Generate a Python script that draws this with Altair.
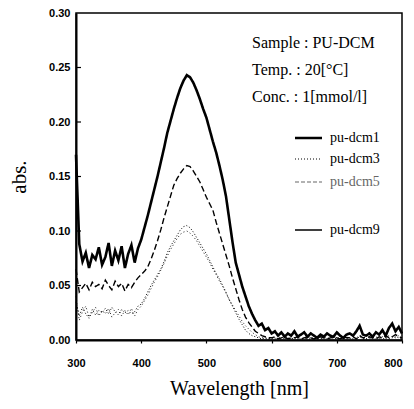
import altair as alt
import pandas as pd

wavelength = list(range(300, 805, 5))

pu_dcm1 = [
    0.170, 0.088, 0.072, 0.080, 0.066, 0.078, 0.074, 0.085, 0.069, 0.076,
    0.089, 0.068, 0.082, 0.073, 0.086, 0.066, 0.079, 0.087, 0.071, 0.084,
    0.092, 0.103, 0.114, 0.126, 0.138, 0.150, 0.163, 0.176, 0.190, 0.201,
    0.212, 0.222, 0.231, 0.238, 0.243, 0.241, 0.236, 0.229, 0.221, 0.212,
    0.204, 0.193, 0.182, 0.172, 0.160, 0.147, 0.132, 0.111, 0.090, 0.071,
    0.060, 0.049, 0.040, 0.031, 0.024, 0.018, 0.013, 0.015, 0.009, 0.011,
    0.006, 0.008, 0.004, 0.007, 0.003, 0.006, 0.004, 0.008, 0.003, 0.005,
    0.007, 0.003, 0.006, 0.004, 0.002, 0.005, 0.003, 0.006, 0.004, 0.003,
    0.007, 0.004, 0.002, 0.005, 0.006, 0.004, 0.008, 0.013, 0.005, 0.004,
    0.006, 0.003, 0.007, 0.005, 0.009, 0.004, 0.011, 0.015, 0.008, 0.012,
    0.006,
]
pu_dcm3 = [
    0.035, 0.022, 0.030, 0.024, 0.020, 0.028, 0.023, 0.027, 0.025, 0.029,
    0.024, 0.030, 0.026, 0.023, 0.028, 0.025, 0.027, 0.024, 0.026, 0.031,
    0.033, 0.038, 0.044, 0.050, 0.055, 0.060, 0.065, 0.072, 0.080, 0.086,
    0.091, 0.096, 0.101, 0.104, 0.105, 0.103, 0.099, 0.094, 0.089, 0.084,
    0.079, 0.073, 0.067, 0.061, 0.056, 0.050, 0.044, 0.037, 0.031, 0.025,
    0.019, 0.014, 0.009, 0.006, 0.004, 0.003, 0.002, 0.001, 0.002, 0.001,
    0.001, 0.002, 0.001, 0.001, 0.002, 0.001, 0.001, 0.002, 0.001, 0.001,
    0.002, 0.001, 0.001, 0.002, 0.001, 0.001, 0.002, 0.001, 0.001, 0.002,
    0.001, 0.001, 0.002, 0.001, 0.002, 0.001, 0.001, 0.003, 0.001, 0.001,
    0.002, 0.001, 0.001, 0.002, 0.001, 0.002, 0.001, 0.002, 0.003, 0.002,
    0.001,
]
pu_dcm5 = [
    0.065, 0.044, 0.048, 0.052, 0.046, 0.053, 0.049, 0.051, 0.047, 0.055,
    0.050, 0.046, 0.054, 0.049, 0.052, 0.045, 0.051, 0.048, 0.053, 0.057,
    0.060, 0.063, 0.067, 0.074, 0.082, 0.091, 0.101, 0.112, 0.122, 0.132,
    0.142, 0.148, 0.153, 0.157, 0.160, 0.159, 0.155, 0.150, 0.145, 0.138,
    0.131, 0.125, 0.119, 0.108, 0.098, 0.088, 0.078, 0.068, 0.057, 0.047,
    0.037, 0.028, 0.021, 0.016, 0.012, 0.008, 0.006, 0.004, 0.003, 0.002,
    0.002, 0.003, 0.001, 0.002, 0.003, 0.001, 0.002, 0.002, 0.003, 0.001,
    0.002, 0.003, 0.002, 0.001, 0.002, 0.003, 0.002, 0.001, 0.002, 0.003,
    0.002, 0.001, 0.003, 0.002, 0.002, 0.003, 0.001, 0.004, 0.002, 0.002,
    0.003, 0.002, 0.001, 0.003, 0.002, 0.004, 0.002, 0.003, 0.005, 0.003,
    0.002,
]
pu_dcm9 = [
    0.040, 0.018, 0.026, 0.031, 0.021, 0.025, 0.030, 0.022, 0.027, 0.024,
    0.029, 0.021, 0.025, 0.028, 0.022, 0.027, 0.023, 0.029, 0.022, 0.028,
    0.031, 0.036, 0.041, 0.047, 0.053, 0.058, 0.064, 0.070, 0.077, 0.083,
    0.088, 0.093, 0.097, 0.099, 0.100, 0.098, 0.095, 0.091, 0.086, 0.081,
    0.076, 0.071, 0.065, 0.060, 0.054, 0.049, 0.043, 0.037, 0.032, 0.027,
    0.022, 0.017, 0.013, 0.010, 0.007, 0.005, 0.003, 0.002, 0.002, 0.001,
    0.002, 0.001, 0.002, 0.003, 0.001, 0.002, 0.001, 0.002, 0.002, 0.001,
    0.001, 0.002, 0.003, 0.001, 0.002, 0.001, 0.002, 0.002, 0.001, 0.003,
    0.002, 0.002, 0.001, 0.003, 0.001, 0.002, 0.002, 0.004, 0.002, 0.001,
    0.001, 0.002, 0.003, 0.001, 0.003, 0.002, 0.004, 0.003, 0.002, 0.004,
    0.002,
]

series_names = ["pu-dcm1", "pu-dcm3", "pu-dcm5", "pu-dcm9"]
series_values = [pu_dcm1, pu_dcm3, pu_dcm5, pu_dcm9]
annotations = ["Sample : PU-DCM", "Temp. : 20[°C]", "Conc. : 1[mmol/l]"]
x_ticks = [300, 400, 500, 600, 700, 800]
y_ticks = [0.0, 0.05, 0.10, 0.15, 0.20, 0.25, 0.30]

# styling (not data)
line_styles = {
    "pu-dcm1": dict(color="black", strokeWidth=2.6, strokeDash=[1, 0]),
    "pu-dcm3": dict(color="black", strokeWidth=1.0, strokeDash=[1, 2]),
    "pu-dcm5": dict(color="black", strokeWidth=1.4, strokeDash=[6, 3]),
    "pu-dcm9": dict(color="black", strokeWidth=0.9, strokeDash=[1, 2.5]),
}
legend_styles = {
    "pu-dcm1": dict(color="black", strokeWidth=2.3, strokeDash=[1, 0]),
    "pu-dcm3": dict(color="black", strokeWidth=1.0, strokeDash=[1, 2]),
    "pu-dcm5": dict(color="#666666", strokeWidth=1.2, strokeDash=[4, 2]),
    "pu-dcm9": dict(color="black", strokeWidth=1.5, strokeDash=[1, 0]),
}
legend_rows_y = [125, 146, 169, 217]

SERIF = "Liberation Serif"
SANS = "Liberation Sans"

xscale = alt.Scale(domain=[300, 800], nice=False, zero=False)
yscale = alt.Scale(domain=[0, 0.3], nice=False)

x_enc = alt.X(
    "wavelength:Q",
    scale=xscale,
    axis=alt.Axis(
        values=x_ticks, title="Wavelength [nm]", grid=False,
        labelFont=SANS, labelFontWeight="bold", labelFontSize=11, labelColor="black",
        labelPadding=14, labelFlush=False, labelOverlap=False,
        labelAlign=alt.expr("datum.value == 800 ? 'right' : 'center'"),
        tickSize=3, tickColor="black", tickWidth=1.2,
        domainColor="black", domainWidth=2,
        titleFont=SERIF, titleFontSize=20, titleFontWeight="normal", titleColor="black",
        titlePadding=10,
    ),
)
y_enc = alt.Y(
    "abs:Q",
    scale=yscale,
    axis=alt.Axis(
        values=y_ticks, format=".2f", title="abs.", grid=False,
        labelFont=SANS, labelFontWeight="bold", labelFontSize=11, labelColor="black",
        labelPadding=6, labelFlush=False, labelOverlap=False,
        tickSize=0,
        domainColor="black", domainWidth=2,
        titleFont=SERIF, titleFontSize=21, titleFontWeight="normal", titleColor="black",
        titlePadding=19,
    ),
)

layers = []
for name, vals in zip(series_names, series_values):
    df = pd.DataFrame({"wavelength": wavelength, "abs": vals})
    st = line_styles[name]
    layers.append(
        alt.Chart(df).mark_line(
            color=st["color"], strokeWidth=st["strokeWidth"], strokeDash=st["strokeDash"]
        ).encode(x=x_enc, y=y_enc)
    )

# inward y ticks
tick_df = pd.DataFrame({"abs": y_ticks[1:-1]})
layers.append(
    alt.Chart(tick_df).mark_rule(color="black", strokeWidth=1.2).encode(
        y=y_enc, x=alt.value(0), x2=alt.value(5)
    )
)

# annotation text
for i, t in enumerate(annotations):
    layers.append(
        alt.Chart(pd.DataFrame({"t": [t]})).mark_text(
            font=SERIF, fontSize=16, align="left", baseline="middle", color="black"
        ).encode(text="t:N", x=alt.value(176), y=alt.value(30 + 27 * i))
    )

# manual legend
for name, ry in zip(series_names, legend_rows_y):
    st = legend_styles[name]
    ldf = pd.DataFrame({"label": [name]})
    layers.append(
        alt.Chart(ldf).mark_rule(
            color=st["color"], strokeWidth=st["strokeWidth"], strokeDash=st["strokeDash"]
        ).encode(x=alt.value(219), x2=alt.value(246), y=alt.value(ry))
    )
    layers.append(
        alt.Chart(ldf).mark_text(
            font=SERIF, fontSize=14, align="left", baseline="middle",
            color=("#666666" if name == "pu-dcm5" else "black"),
        ).encode(text="label:N", x=alt.value(254), y=alt.value(ry))
    )

chart = alt.layer(*layers).properties(
    width=326,
    height=327,
    autosize=alt.AutoSizeParams(type="none"),
    padding={"left": 68, "top": 5, "right": 4, "bottom": 61},
    background="white",
).configure_view(stroke="black", strokeWidth=1.5)

chart.save("out.html", embed_options={"renderer": "svg", "actions": False})
